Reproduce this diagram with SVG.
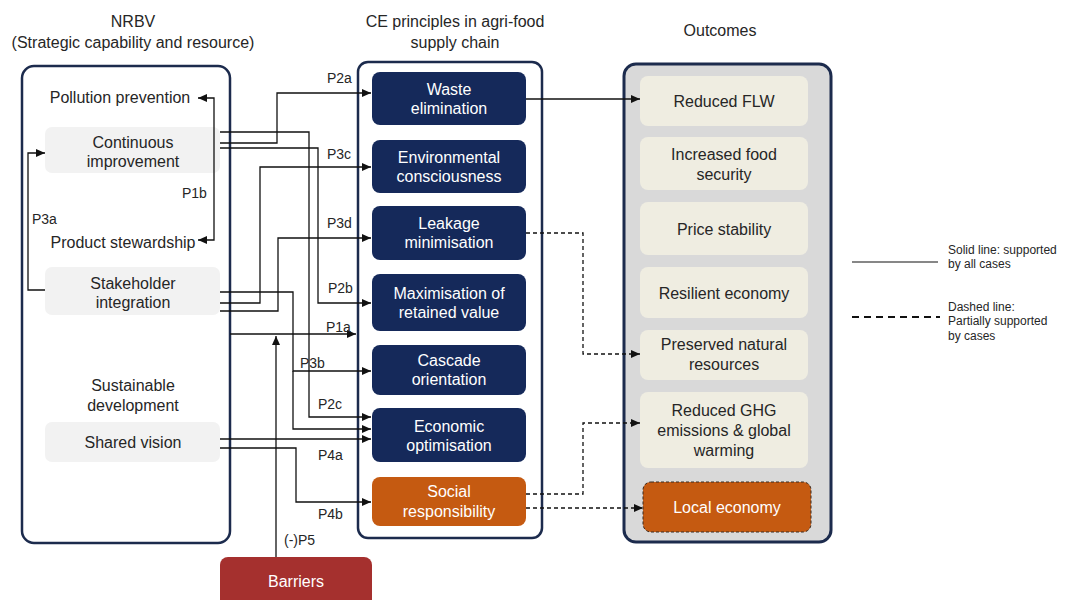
<svg xmlns="http://www.w3.org/2000/svg" width="1067" height="600" viewBox="0 0 1067 600">
  <defs>
    <marker id="arr" markerUnits="userSpaceOnUse" markerWidth="9" markerHeight="8" refX="9" refY="4" orient="auto-start-reverse">
      <path d="M0,0 L9,4 L0,8 z" fill="#111"/>
    </marker>
    <style>
      text { font-family: "Liberation Sans", Arial, sans-serif; }
      .hdr { font-size: 16px; fill: #262626; text-anchor: middle; }
      .lbl { font-size: 16px; fill: #262626; text-anchor: middle; }
      .wht { font-size: 16px; fill: #ffffff; text-anchor: middle; }
      .tag { font-size: 14px; fill: #262626; }
      .leg { font-size: 12px; fill: #262626; }
      .panel { fill: #ffffff; stroke: #1c2b4d; stroke-width: 2.5; }
      .grey { fill: #f2f2f2; }
      .navy { fill: #15295a; }
      .orange { fill: #c55a11; }
      .cream { fill: #efede1; }
      .wire { fill: none; stroke: #111; stroke-width: 1.3; }
      .dash { fill: none; stroke: #111; stroke-width: 1.3; stroke-dasharray: 4 3; }
    </style>
  </defs>

  <!-- column headings -->
  <text class="hdr" x="133" y="27">NRBV</text>
  <text class="hdr" x="133" y="48">(Strategic capability and resource)</text>
  <text class="hdr" x="455" y="27">CE principles in agri-food</text>
  <text class="hdr" x="455" y="48">supply chain</text>
  <text class="hdr" x="720" y="36">Outcomes</text>

  <!-- NRBV panel -->
  <g id="nrbv">
    <rect class="panel" x="22" y="66" width="208" height="477" rx="12"/>
    <text class="lbl" x="120" y="103">Pollution prevention</text>
    <text class="lbl" x="123" y="248">Product stewardship</text>
    <text class="lbl" x="133" y="391">Sustainable</text>
    <text class="lbl" x="133" y="411">development</text>
  </g>
  <g id="continuous-improvement">
    <rect class="grey" x="45" y="127" width="175" height="46" rx="7"/>
    <text class="lbl" x="133" y="148">Continuous</text>
    <text class="lbl" x="133" y="167">improvement</text>
  </g>
  <g id="stakeholder-integration">
    <rect class="grey" x="45" y="267" width="175" height="48" rx="7"/>
    <text class="lbl" x="133" y="289">Stakeholder</text>
    <text class="lbl" x="133" y="308">integration</text>
  </g>
  <g id="shared-vision">
    <rect class="grey" x="45" y="422" width="175" height="40" rx="7"/>
    <text class="lbl" x="133" y="448">Shared vision</text>
  </g>

  <!-- CE principles panel -->
  <g id="ce-principles">
    <rect class="panel" x="358" y="62" width="184" height="476" rx="10" stroke-width="3"/>
  </g>
  <g id="waste-elimination">
    <rect class="navy" x="372" y="72" width="154" height="53" rx="8"/>
    <text class="wht" x="449" y="95">Waste</text>
    <text class="wht" x="449" y="114">elimination</text>
  </g>
  <g id="environmental-consciousness">
    <rect class="navy" x="372" y="140" width="154" height="53" rx="8"/>
    <text class="wht" x="449" y="163">Environmental</text>
    <text class="wht" x="449" y="182">consciousness</text>
  </g>
  <g id="leakage-minimisation">
    <rect class="navy" x="372" y="206" width="154" height="54" rx="8"/>
    <text class="wht" x="449" y="229">Leakage</text>
    <text class="wht" x="449" y="248">minimisation</text>
  </g>
  <g id="maximisation-retained-value">
    <rect class="navy" x="372" y="274" width="154" height="57" rx="8"/>
    <text class="wht" x="449" y="299">Maximisation of</text>
    <text class="wht" x="449" y="318">retained value</text>
  </g>
  <g id="cascade-orientation">
    <rect class="navy" x="372" y="345" width="154" height="50" rx="8"/>
    <text class="wht" x="449" y="366">Cascade</text>
    <text class="wht" x="449" y="385">orientation</text>
  </g>
  <g id="economic-optimisation">
    <rect class="navy" x="372" y="408" width="154" height="54" rx="8"/>
    <text class="wht" x="449" y="432">Economic</text>
    <text class="wht" x="449" y="451">optimisation</text>
  </g>
  <g id="social-responsibility">
    <rect class="orange" x="372" y="477" width="154" height="49" rx="8"/>
    <text class="wht" x="449" y="497">Social</text>
    <text class="wht" x="449" y="517">responsibility</text>
  </g>

  <!-- Outcomes panel -->
  <g id="outcomes">
    <rect x="624" y="64" width="207" height="478" rx="12" fill="#d9d9d9" stroke="#1c2b4d" stroke-width="3"/>
  </g>
  <g id="reduced-flw">
    <rect class="cream" x="640" y="76" width="168" height="50" rx="8"/>
    <text class="lbl" x="724" y="107">Reduced FLW</text>
  </g>
  <g id="food-security">
    <rect class="cream" x="640" y="137" width="168" height="53" rx="8"/>
    <text class="lbl" x="724" y="160">Increased food</text>
    <text class="lbl" x="724" y="180">security</text>
  </g>
  <g id="price-stability">
    <rect class="cream" x="640" y="202" width="168" height="53" rx="8"/>
    <text class="lbl" x="724" y="235">Price stability</text>
  </g>
  <g id="resilient-economy">
    <rect class="cream" x="640" y="267" width="168" height="51" rx="8"/>
    <text class="lbl" x="724" y="299">Resilient economy</text>
  </g>
  <g id="natural-resources">
    <rect class="cream" x="640" y="330" width="168" height="50" rx="8"/>
    <text class="lbl" x="724" y="350">Preserved natural</text>
    <text class="lbl" x="724" y="370">resources</text>
  </g>
  <g id="ghg-emissions">
    <rect class="cream" x="640" y="392" width="168" height="76" rx="8"/>
    <text class="lbl" x="724" y="416">Reduced GHG</text>
    <text class="lbl" x="724" y="436">emissions &amp; global</text>
    <text class="lbl" x="724" y="456">warming</text>
  </g>
  <g id="local-economy">
    <rect x="643" y="482" width="168" height="50" rx="8" fill="#c55a11" stroke="#3a2a20" stroke-width="1" stroke-dasharray="3 2"/>
    <text class="wht" x="727" y="513">Local economy</text>
  </g>

  <!-- Barriers -->
  <g id="barriers">
    <rect x="220" y="557" width="152" height="56" rx="8" fill="#a5302e"/>
    <text class="wht" x="296" y="587">Barriers</text>
  </g>

  <!-- connectors -->
  <g id="connectors">
    <!-- P1b -->
    <path class="wire" stroke="#444" d="M198,98 H214 V240 H198" marker-start="url(#arr)" marker-end="url(#arr)"/>
    <!-- P3a -->
    <path class="wire" d="M45,290 H28 V153 H45" marker-end="url(#arr)"/>
    <!-- Continuous improvement links -->
    <path class="wire" d="M220,143 H277 V93 H371" marker-end="url(#arr)"/>
    <path class="wire" d="M220,132 H309 V417 H371" marker-end="url(#arr)"/>
    <path class="wire" d="M220,148 H318 V303 H371" marker-end="url(#arr)"/>
    <!-- Stakeholder integration links -->
    <path class="wire" d="M220,303 H260 V167 H371" marker-end="url(#arr)"/>
    <path class="wire" d="M220,311 H278 V238 H371" marker-end="url(#arr)"/>
    <path class="wire" stroke-width="1.8" d="M220,292 H293 V371 H371" marker-end="url(#arr)"/>
    <path class="wire" d="M293,371 V429 H371" marker-end="url(#arr)"/>
    <!-- P1a -->
    <path class="wire" d="M230,334 H356" marker-end="url(#arr)"/>
    <!-- Shared vision links -->
    <path class="wire" d="M220,439 H371" marker-end="url(#arr)"/>
    <path class="wire" d="M220,448 H296 V502 H371" marker-end="url(#arr)"/>
    <!-- (-)P5 -->
    <path class="wire" d="M276,557 V336" marker-end="url(#arr)"/>
    <!-- CE principles to outcomes -->
    <path class="wire" d="M526,99 H640" marker-end="url(#arr)"/>
    <path class="dash" d="M526,233 H583 V354 H640" marker-end="url(#arr)"/>
    <path class="dash" d="M526,494 H583 V423 H640" marker-end="url(#arr)"/>
    <path class="dash" d="M526,508 H643" marker-end="url(#arr)"/>
  </g>

  <!-- path labels -->
  <g id="path-labels">
    <text class="tag" x="327" y="83">P2a</text>
    <text class="tag" x="327" y="159">P3c</text>
    <text class="tag" x="182" y="198">P1b</text>
    <text class="tag" x="32" y="224">P3a</text>
    <text class="tag" x="327" y="228">P3d</text>
    <text class="tag" x="328" y="293">P2b</text>
    <text class="tag" x="326" y="332">P1a</text>
    <text class="tag" x="300" y="368">P3b</text>
    <text class="tag" x="318" y="409">P2c</text>
    <text class="tag" x="318" y="460">P4a</text>
    <text class="tag" x="318" y="519">P4b</text>
    <text class="tag" x="284" y="545">(-)P5</text>
  </g>

  <!-- legend -->
  <g id="legend">
    <line x1="852" y1="262" x2="938" y2="262" stroke="#111" stroke-width="1.2"/>
    <text class="leg" x="948" y="254">Solid line: supported</text>
    <text class="leg" x="948" y="268">by all cases</text>
    <line x1="852" y1="317" x2="940" y2="317" stroke="#111" stroke-width="2" stroke-dasharray="7 5"/>
    <text class="leg" x="948" y="311">Dashed line:</text>
    <text class="leg" x="948" y="325">Partially supported</text>
    <text class="leg" x="948" y="340">by cases</text>
  </g>
</svg>
